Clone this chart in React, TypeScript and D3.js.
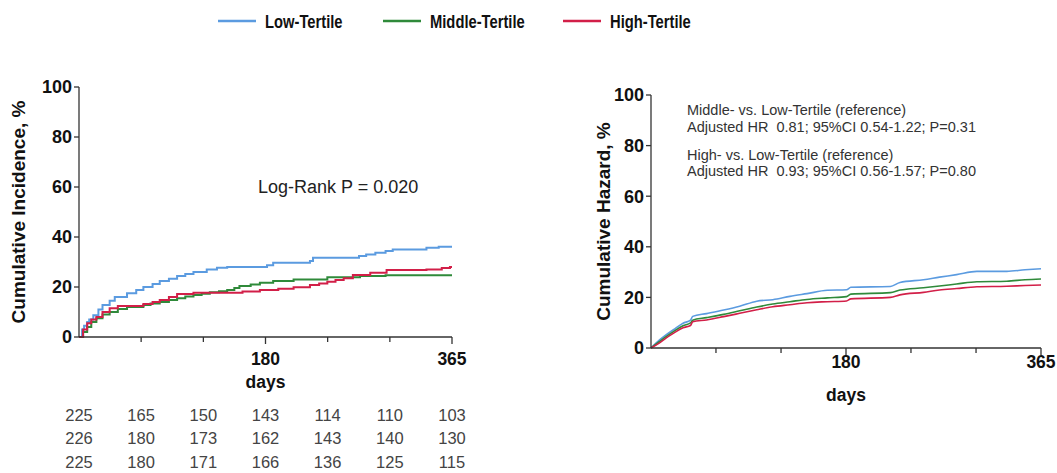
import React from "react";
import * as d3 from "d3";

const seriesNames = ["Low-Tertile", "Middle-Tertile", "High-Tertile"];
const seriesColors = ["#5b9be0", "#2f8a3a", "#d21f48"];

// Left: cumulative incidence (day, %)
const incLow: [number, number][] = [
  [0, 0], [3, 3], [5, 4.5], [8, 6], [10, 7], [14, 8.7], [19, 11], [23, 12.8], [30, 14.5], [35, 16], [47, 17.5], [56, 18.8], [63, 20],
  [72, 21.2], [79, 22.4], [88, 23.3], [96, 24.4], [104, 25.2], [112, 26], [125, 27], [135, 27.7], [145, 28],
  [184, 28.7], [190, 29.7], [226, 30.4], [229, 31.7], [274, 32.4], [281, 33], [290, 33.7], [300, 34.4], [307, 35],
  [340, 35.7], [352, 36.1], [365, 36.1],
];
const incMid: [number, number][] = [
  [0, 0], [4, 2], [8, 4], [12, 6], [17, 7.5], [23, 9], [30, 10], [38, 11.2], [47, 12], [63, 12.8], [70, 13.4],
  [79, 14], [88, 14.8], [96, 15.5], [104, 16.2], [112, 16.8], [120, 17.3], [128, 17.9], [137, 18.3], [145, 18.8],
  [152, 19.6], [157, 20.4], [168, 21], [177, 21.7], [190, 22.4], [210, 23], [243, 23.9], [275, 24.4], [300, 24.7], [365, 24.7],
];
const incHigh: [number, number][] = [
  [0, 0], [4, 3], [8, 5.5], [12, 7], [17, 8], [23, 10], [30, 11.5], [38, 12.4], [63, 13.2], [72, 14], [79, 14.8],
  [88, 16], [96, 17.2], [112, 17.7], [145, 17.7], [160, 18.2], [177, 18.8], [195, 19.3], [210, 19.9], [226, 20.8],
  [235, 21.4], [243, 22.1], [251, 22.8], [259, 23.5], [268, 24.8], [285, 25.7], [301, 26.8], [340, 27], [355, 27.6], [363, 28], [365, 28],
];

// Right: cumulative hazard (day, %)
const hazLow: [number, number][] = [
  [0, 0], [8, 3.2], [14, 5.2], [21, 7.2], [30, 9.8], [37, 11], [39, 12.5], [52, 13.6], [68, 15], [83, 16.5], [99, 18.5],
  [114, 19.1], [130, 20.4], [146, 21.5], [165, 22.8], [183, 23], [187, 24], [224, 24.3], [233, 25.9], [255, 27],
  [270, 28], [286, 29], [305, 30.3], [333, 30.3], [350, 30.9], [365, 31.3],
];
const hazMid: [number, number][] = [
  [0, 0], [8, 2.6], [14, 4.5], [21, 6.5], [30, 8.8], [37, 9.9], [39, 11], [52, 12], [68, 13.3], [83, 14.7], [99, 16.2],
  [114, 17.4], [130, 18.3], [146, 19.2], [165, 19.8], [183, 20.3], [187, 21.3], [224, 21.9], [233, 22.9],
  [255, 23.8], [270, 24.5], [286, 25.3], [305, 26.2], [333, 26.4], [350, 27], [365, 27.3],
];
const hazHigh: [number, number][] = [
  [0, 0], [8, 2], [14, 3.9], [21, 5.8], [30, 8], [37, 8.9], [39, 10.4], [52, 11.1], [68, 12.4], [83, 13.7], [99, 15.1],
  [114, 16.3], [130, 17.1], [146, 17.9], [165, 18.3], [183, 18.6], [187, 19.4], [224, 20], [233, 21],
  [255, 22], [270, 22.9], [286, 23.5], [305, 24.2], [333, 24.4], [350, 24.7], [365, 24.9],
];

const xTicks = [0, 60.8, 121.7, 182.5, 243.3, 304.2, 365];
const xTickLabels = ["", "", "", "180", "", "", "365"];
const yTicks = [0, 20, 40, 60, 80, 100];

const riskRows = [
  [225, 165, 150, 143, 114, 110, 103],
  [226, 180, 173, 162, 143, 140, 130],
  [225, 180, 171, 166, 136, 125, 115],
];

const annotLines = [
  "Middle- vs. Low-Tertile (reference)",
  "Adjusted HR  0.81; 95%CI 0.54-1.22; P=0.31",
  "High- vs. Low-Tertile (reference)",
  "Adjusted HR  0.93; 95%CI 0.56-1.57; P=0.80",
];

const FONT = "Liberation Sans, Arial, sans-serif";
const AXIS = "#333";

type PanelProps = {
  x0: number; x1: number; yTop: number; yBot: number;
  series: [number, number][][]; yLabel: string; labelX: number; sw: number;
  tickLabelY: number; daysY: number; step: boolean;
};

function Panel({ x0, x1, yTop, yBot, series, yLabel, labelX, sw, tickLabelY, daysY, step }: PanelProps) {
  const x = d3.scaleLinear().domain([0, 365]).range([x0, x1]);
  const y = d3.scaleLinear().domain([0, 100]).range([yBot, yTop]);
  const line = d3.line<[number, number]>().x(d => x(d[0])).y(d => y(d[1]))
    .curve(step ? d3.curveStepAfter : d3.curveMonotoneX);
  const midY = (yTop + yBot) / 2;
  return (
    <g>
      {series.map((s, i) => (
        <path key={i} d={line(s) || ""} fill="none" stroke={seriesColors[i]} strokeWidth={sw} />
      ))}
      <line x1={x0} x2={x0} y1={yTop} y2={yBot} stroke={AXIS} strokeWidth={1.3} />
      <line x1={x0} x2={x1} y1={yBot} y2={yBot} stroke={AXIS} strokeWidth={1.3} />
      {yTicks.map(t => (
        <g key={t}>
          <line x1={x0 - 5} x2={x0} y1={y(t)} y2={y(t)} stroke={AXIS} strokeWidth={1.3} />
          <text x={x0 - 7} y={y(t)} dy="0.36em" textAnchor="end" fontFamily={FONT} fontWeight="bold" fontSize={18} fill="#111">{t}</text>
        </g>
      ))}
      {xTicks.map((t, i) => (
        <g key={i}>
          {i > 0 && <line x1={x(t)} x2={x(t)} y1={yBot} y2={yBot + (xTickLabels[i] ? 7 : 5)} stroke={AXIS} strokeWidth={1.3} />}
          {xTickLabels[i] && (
            <text x={x(t)} y={tickLabelY} dy="0.36em" textAnchor="middle" fontFamily={FONT} fontWeight="bold" fontSize={17.5} fill="#111">{xTickLabels[i]}</text>
          )}
        </g>
      ))}
      <text x={x(182.5)} y={daysY} dy="0.36em" textAnchor="middle" fontFamily={FONT} fontWeight="bold" fontSize={17.5} fill="#111">days</text>
      <text transform={`translate(${labelX},${midY}) rotate(-90)`} dy="0.36em" textAnchor="middle" fontFamily={FONT} fontWeight="bold" fontSize={19} fill="#111">{yLabel}</text>
    </g>
  );
}

export default function App() {
  const W = 1057, H = 473;
  const leftX = d3.scaleLinear().domain([0, 365]).range([79, 452]);
  return (
    <svg width={W} height={H} style={{ position: "absolute", left: 0, top: 0, background: "#fff" }}>
      <rect width={W} height={H} fill="#fff" />
      {/* Legend */}
      {seriesNames.map((n, i) => {
        const lx = [218, 383, 563][i];
        return (
          <g key={n}>
            <line x1={lx} x2={lx + 38} y1={21} y2={21} stroke={seriesColors[i]} strokeWidth={2.5} />
            <g transform={`translate(${lx + 47},22) scale(0.82,1)`}>
              <text x={0} y={0} dy="0.36em" fontFamily={FONT} fontWeight="bold" fontSize={18} fill="#111">{n}</text>
            </g>
          </g>
        );
      })}
      <Panel x0={79} x1={452} yTop={87} yBot={337} series={[incLow, incMid, incHigh]} yLabel="Cumulative Incidence, %" labelX={18} sw={2} tickLabelY={359} daysY={382} step={true} />
      <text x={258} y={187} dy="0.36em" fontFamily={FONT} fontSize={18} fill="#222">Log-Rank P = 0.020</text>
      {riskRows.map((row, r) => row.map((v, c) => (
        <text key={`${r}-${c}`} x={leftX(xTicks[c])} y={[415, 438, 462][r]} dy="0.36em" textAnchor="middle" fontFamily={FONT} fontSize={16.5} fill="#444">{v}</text>
      )))}
      <Panel x0={651} x1={1041} yTop={95} yBot={348} series={[hazLow, hazMid, hazHigh]} yLabel="Cumulative Hazard, %" labelX={603} sw={1.6} tickLabelY={362} daysY={395} step={false} />
      {annotLines.map((t, i) => (
        <text key={i} x={687} y={[110, 127, 155, 171][i]} dy="0.36em" fontFamily={FONT} fontSize={14.5} fill="#333" style={{ whiteSpace: "pre" }}>{t}</text>
      ))}
    </svg>
  );
}
